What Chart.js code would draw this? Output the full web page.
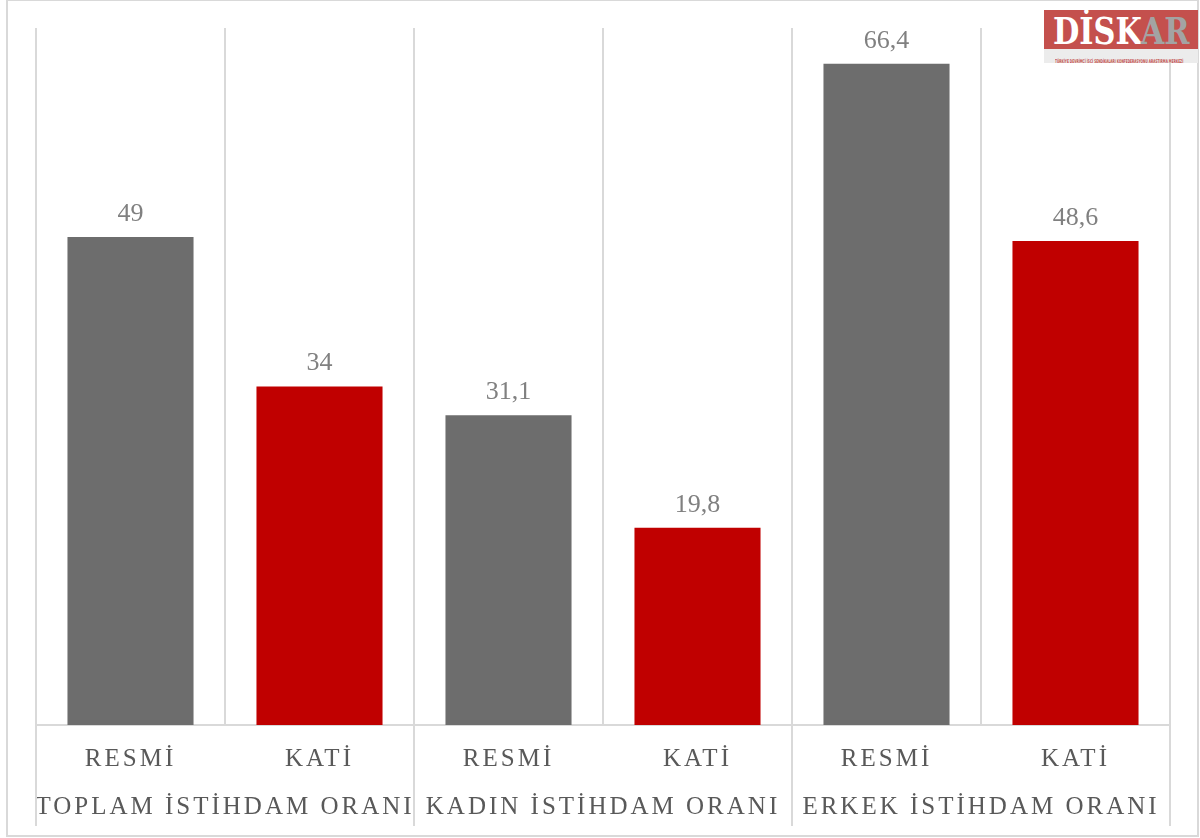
<!DOCTYPE html>
<html lang="tr">
<head>
    <meta charset="UTF-8">
    <title>İstihdam Oranı</title>
    <script src="https://cdn.jsdelivr.net/npm/chart.js"></script>
    <style>
        * { box-sizing: border-box; margin: 0; padding: 0; }
        body { width: 1200px; height: 838px; background: #fff; position: relative; overflow: hidden; font-family: "Liberation Serif", serif; }
        .frame { position: absolute; left: 6px; top: -1px; width: 1193px; height: 838px; border: 2px solid #d9d9d9; }
        .wrap { position: absolute; left: 0; top: 0; width: 1200px; height: 838px; }

        /* logo */
        .logo { position: absolute; left: 1044px; top: 10px; width: 154px; height: 53px; overflow: hidden; }
        .logo .top { height: 39px; background: #c4504d; color: #fff; font-family: "DejaVu Serif", serif; font-weight: bold; font-size: 38px; line-height: 42px; padding-left: 9px; white-space: nowrap; overflow: hidden; }
        .logo .top b { display: inline-block; transform: scaleX(0.8); transform-origin: left center; }
        .logo .top span { color: #a3a3a3; }
        .logo .sub { height: 14px; background: #ececec; overflow: hidden; }
        .logo .sub b { display: inline-block; color: #c4504d; font-family: "DejaVu Sans Condensed", sans-serif; font-size: 5px; line-height: 14px; white-space: nowrap; transform: scaleX(0.64); transform-origin: left center; margin-left: 11px; }
    </style>
</head>
<body>
    <div class="frame"></div>
    <div class="wrap"><canvas id="chart"></canvas></div>
    <div class="logo">
        <div class="top"><b>DİSK<span>AR</span></b></div>
        <div class="sub"><b>TÜRKİYE DEVRİMCİ İŞÇİ SENDİKALARI KONFEDERASYONU ARAŞTIRMA MERKEZİ</b></div>
    </div>

    <script>
        // Data
        const groups = ['TOPLAM İSTİHDAM ORANI', 'KADIN İSTİHDAM ORANI', 'ERKEK İSTİHDAM ORANI'];
        const kinds = ['RESMİ', 'KATİ', 'RESMİ', 'KATİ', 'RESMİ', 'KATİ'];
        const values = [49, 34, 31.1, 19.8, 66.4, 48.6];
        const yMax = 70;

        const kindColors = { 'RESMİ': '#6d6d6d', 'KATİ': '#c00000' };
        const gridColor = '#d9d9d9';
        const labelFont = { family: '"Liberation Serif", serif', size: 25 };

        // value labels above bars
        const valueLabels = {
            id: 'valueLabels',
            afterDatasetsDraw(chart) {
                const ctx = chart.ctx;
                const meta = chart.getDatasetMeta(0);
                ctx.save();
                ctx.letterSpacing = '0px';
                ctx.font = '26px "Liberation Serif", serif';
                ctx.fillStyle = '#808080';
                ctx.textAlign = 'center';
                ctx.textBaseline = 'alphabetic';
                meta.data.forEach((bar, i) => {
                    ctx.fillText(String(values[i]).replace('.', ','), bar.x, bar.y - 16);
                });
                ctx.restore();
            }
        };

        // group separator lines through both label rows
        const groupLines = {
            id: 'groupLines',
            beforeDraw(chart) { chart.ctx.letterSpacing = '3px'; },
            afterDraw(chart) {
                const ctx = chart.ctx;
                const x2 = chart.scales.x2;
                ctx.save();
                ctx.strokeStyle = gridColor;
                ctx.lineWidth = 2;
                for (let i = 0; i <= groups.length; i++) {
                    const px = x2.getPixelForDecimal(i / groups.length);
                    ctx.beginPath();
                    ctx.moveTo(px, chart.chartArea.bottom);
                    ctx.lineTo(px, x2.bottom);
                    ctx.stroke();
                }
                ctx.restore();
            }
        };

        const ctx = document.getElementById('chart').getContext('2d');
        new Chart(ctx, {
            type: 'bar',
            data: {
                labels: kinds,
                datasets: [{
                    data: values,
                    backgroundColor: kinds.map(k => kindColors[k]),
                    barPercentage: 0.667,
                    categoryPercentage: 1
                }]
            },
            options: {
                responsive: true,
                maintainAspectRatio: false,
                animation: false,
                layout: { padding: { left: 36, right: 30, top: 28, bottom: 12 } },
                plugins: { legend: { display: false }, tooltip: { enabled: false } },
                scales: {
                    y: { display: false, min: 0, max: yMax },
                    x: {
                        position: 'bottom',
                        offset: true,
                        grid: { offset: true, color: gridColor, lineWidth: 2, drawTicks: false },
                        border: { color: gridColor, width: 2 },
                        ticks: { color: '#595959', font: labelFont, padding: 19, maxRotation: 0, autoSkip: false },
                        afterFit(scale) { scale.height = 50; }
                    },
                    x2: {
                        type: 'category',
                        position: 'bottom',
                        labels: groups,
                        offset: true,
                        grid: { display: false },
                        border: { display: false },
                        ticks: { color: '#595959', font: labelFont, padding: 9, maxRotation: 0, autoSkip: false },
                        afterFit(scale) { scale.height = 51; }
                    }
                }
            },
            plugins: [valueLabels, groupLines]
        });
    </script>
</body>
</html>
